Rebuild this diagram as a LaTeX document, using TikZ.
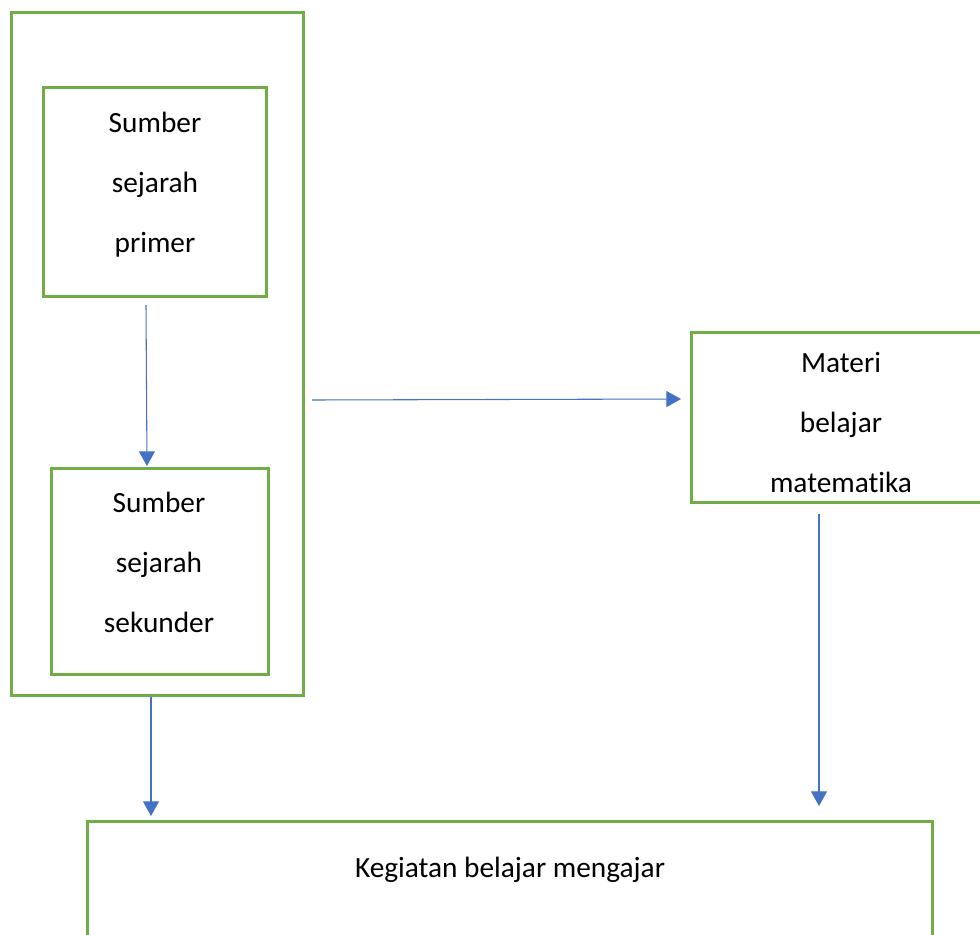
\documentclass[tikz,border=0pt]{standalone}
\usepackage{fontspec}
\setmainfont{Carlito}[Ligatures=CommonOff]
\usetikzlibrary{arrows.meta,fit,positioning}

\tikzset{
  greenbox/.style={draw=boxgreen, line width=2.25pt, inner sep=0pt},
  boxtext/.style={align=center, font=\fontsize{22}{45}\selectfont},
  bluearrow/.style={draw=arrowblue, line width=0.8pt, -{Triangle[width=12pt,length=11pt]}}
}
\definecolor{boxgreen}{HTML}{70AD47}
\definecolor{arrowblue}{HTML}{4472C4}

\begin{document}
\begin{tikzpicture}[x=0.75pt,y=-0.75pt]
\useasboundingbox (0,0) rectangle (980,934);

\node (outer) [greenbox, fit={(11,13) (303,695)}] {};
\node (primer) [greenbox, fit={(43,88) (266,296)}] {};
\node (sekunder) [greenbox, fit={(51,468) (268,674)}] {};
\node (materi) [greenbox, fit={(691,332) (992,502)}] {};
\node (kbm) [greenbox, fit={(87,821) (932,980)}] {};

\node (primertxt) at (155,185) [boxtext] {Sumber\\sejarah\\primer};
\node (sekundertxt) at (159,562) [boxtext] {Sumber\\sejarah\\sekunder};
\node (materitxt) at (841,423) [boxtext] {Materi\\belajar\\matematika};
\node (kbmtxt) at (510,870) [boxtext] {Kegiatan belajar mengajar};

\coordinate (a1) at (146,305);
\coordinate (b1) at (147,466);
\coordinate (a2) at (312,400);
\coordinate (b2) at (681,399);
\coordinate (a3) at (151,697);
\coordinate (b3) at (151,816);
\coordinate (a4) at (819,514);
\coordinate (b4) at (819,806);

\foreach \i in {1,2,3,4} {
\draw[bluearrow] (a\i) -- (b\i);
};
\end{tikzpicture}
\end{document}
